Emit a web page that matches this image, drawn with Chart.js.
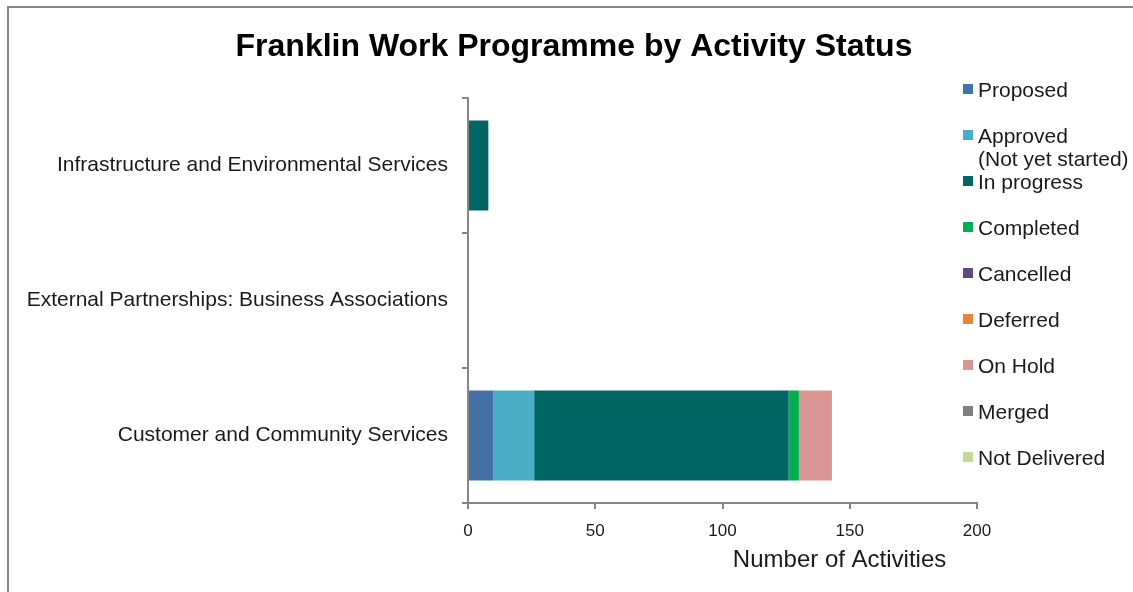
<!DOCTYPE html>
<html>
<head>
<meta charset="utf-8">
<title>Franklin Work Programme by Activity Status</title>
<script src="https://cdn.jsdelivr.net/npm/chart.js@4.4.1/dist/chart.umd.min.js"></script>
<style>
  html, body { margin: 0; padding: 0; background: #fff; overflow: hidden; }
  #wrap { position: relative; width: 1133px; height: 592px; }
  #frame { position: absolute; left: 7px; top: 6px; width: 1300px; height: 800px; border: 2px solid #888; box-sizing: border-box; }
  canvas { position: absolute; left: 0; top: 0; }
  #legend { position: absolute; left: 963px; top: 78px; font: 21px 'Liberation Sans', Arial, sans-serif; color: #1a1a1a; }
  .item { position: relative; height: 46px; line-height: 23px; padding-left: 15px; white-space: nowrap; }
  .box { position: absolute; left: 0; top: 6px; width: 10px; height: 10px; }
</style>
</head>
<body>
<div id="wrap">
  <div id="frame"></div>
  <canvas id="chart" width="1133" height="592"></canvas>
  <div id="legend"></div>
</div>
<script>
// datos
const chartTitle = 'Franklin Work Programme by Activity Status';
const axisTitle = 'Number of Activities';
const categories = [
  'Infrastructure and Environmental Services',
  'External Partnerships: Business Associations',
  'Customer and Community Services'
];
const statuses = ['Proposed', 'Approved\n(Not yet started)', 'In progress', 'Completed', 'Cancelled', 'Deferred', 'On Hold', 'Merged', 'Not Delivered'];
const colores = ['#4472a8', '#4bacc6', '#006663', '#00b050', '#604a7b', '#e0873c', '#d99694', '#808080', '#c3d69b'];

// una fila por estado, una columna por categoria
const proposed     = [0, 0, 10];
const approved     = [0, 0, 16];
const inProgress   = [8, 0, 100];
const completed    = [0, 0, 4];
const cancelled    = [0, 0, 0];
const deferred     = [0, 0, 0];
const onHold       = [0, 0, 13];
const merged       = [0, 0, 0];
const notDelivered = [0, 0, 0];
const valores = [proposed, approved, inProgress, completed, cancelled, deferred, onHold, merged, notDelivered];

const xTicks = [0, 50, 100, 150, 200];

const fontSans = "'Liberation Sans', Arial, sans-serif";
const gris = '#868686';

// titulo y titulo del eje dibujados a mano
const textosPlugin = {
  id: 'textos',
  afterDraw(chart) {
    const ctx = chart.ctx;
    const xs = chart.scales.x;
    ctx.save();
    ctx.fillStyle = '#000';
    ctx.textAlign = 'center';
    ctx.textBaseline = 'middle';
    ctx.font = 'bold 32px ' + fontSans;
    ctx.fillText(chartTitle, 574, 47);
    ctx.fillStyle = '#1a1a1a';
    ctx.font = '24px ' + fontSans;
    ctx.fillText(axisTitle, xs.getPixelForValue(146), 560);
    ctx.restore();
  }
};

const chart = new Chart(document.getElementById('chart'), {
  type: 'bar',
  data: {
    labels: categories,
    datasets: statuses.map((s, i) => ({
      label: s,
      data: valores[i],
      backgroundColor: colores[i],
      borderWidth: 0,
      categoryPercentage: 1,
      barPercentage: 0.667
    }))
  },
  options: {
    indexAxis: 'y',
    responsive: false,
    animation: false,
    layout: { padding: { left: 8, right: 156, top: 98, bottom: 0 } },
    plugins: {
      legend: { display: false },
      title: { display: false },
      tooltip: { enabled: false }
    },
    scales: {
      x: {
        stacked: true,
        min: 0,
        max: 200,
        afterBuildTicks: (scale) => { scale.ticks = xTicks.map(v => ({ value: v })); },
        afterFit: (scale) => { scale.height = 89; },
        border: { display: true, color: gris, width: 2 },
        grid: { drawOnChartArea: false, drawTicks: true, tickLength: 6, color: gris, lineWidth: 2 },
        ticks: { color: '#1a1a1a', padding: 12, font: { family: fontSans, size: 17 } }
      },
      y: {
        stacked: true,
        afterFit: (scale) => { scale.width = 460; },
        border: { display: true, color: gris, width: 2 },
        grid: { offset: true, drawOnChartArea: false, drawTicks: true, tickLength: 6, color: gris, lineWidth: 2 },
        ticks: { color: '#1a1a1a', padding: 14, font: { family: fontSans, size: 21 } }
      }
    }
  },
  plugins: [textosPlugin]
});

// leyenda en HTML para poder partir "Approved" en dos lineas
const legend = document.getElementById('legend');
chart.data.datasets.forEach((ds) => {
  const item = document.createElement('div');
  item.className = 'item';
  const box = document.createElement('span');
  box.className = 'box';
  box.style.background = ds.backgroundColor;
  item.appendChild(box);
  ds.label.split('\n').forEach((line, j) => {
    if (j > 0) item.appendChild(document.createElement('br'));
    item.appendChild(document.createTextNode(line));
  });
  legend.appendChild(item);
});
</script>
</body>
</html>
